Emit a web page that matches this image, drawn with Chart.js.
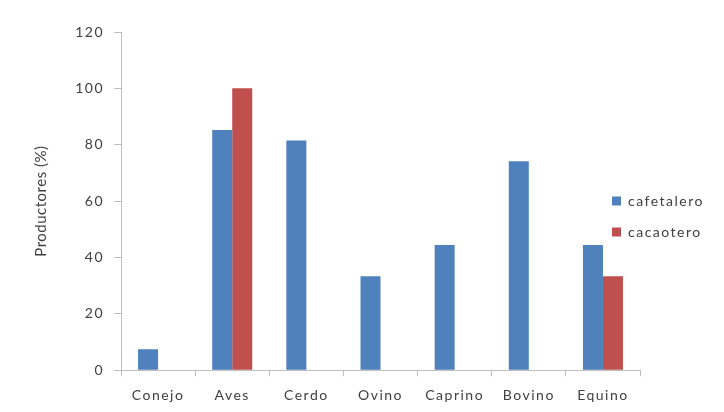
<!DOCTYPE html>
<html>
<head>
<meta charset="utf-8">
<script src="https://cdn.jsdelivr.net/npm/chart.js@4/dist/chart.umd.min.js"></script>
<style>
  html, body { margin: 0; padding: 0; background: #ffffff; }
  #wrap { width: 724px; height: 412px; }
</style>
</head>
<body>
<div id="wrap"><canvas id="c" width="724" height="412"></canvas></div>
<script>
// Livestock species kept by producers, by production system
const categories = ['Conejo', 'Aves', 'Cerdo', 'Ovino', 'Caprino', 'Bovino', 'Equino'];
const cafetalero = [7.4, 85.2, 81.5, 33.3, 44.4, 74.1, 44.4];
const cacaotero = [0, 100, 0, 0, 0, 0, 33.3];
const yTicks = [0, 20, 40, 60, 80, 100, 120];

const axisGrey = '#bfbfbf';
const textGrey = '#404040';
const font = { family: 'Lato, "Open Sans", sans-serif', size: 14 };

// Slightly loose tracking for all chart text; the axis title is set tighter
const tracking = {
  id: 'tracking',
  beforeUpdate(chart) { chart.ctx.letterSpacing = '1.5px'; },
  beforeDraw(chart) { chart.ctx.letterSpacing = '1.5px'; },
  afterLayout(chart) {
    const s = chart.scales.y;
    if (s && !s._tightTitle) {
      const orig = s.drawTitle.bind(s);
      s.drawTitle = function () {
        const c = this.ctx;
        const prev = c.letterSpacing;
        c.letterSpacing = '0.5px';
        orig();
        c.letterSpacing = prev;
      };
      s._tightTitle = true;
    }
  }
};

// Let the legend sit partly over the plot's right margin, like an Excel legend
const legendShift = {
  id: 'legendShift',
  afterLayout(chart) {
    const lg = chart.legend;
    if (!lg) return;
    const dx = -45, dy = -7;
    lg.left += dx;
    lg.right += dx;
    lg.top += dy;
    lg.bottom += dy;
  }
};

new Chart(document.getElementById('c'), {
  type: 'bar',
  data: {
    labels: categories,
    datasets: [
      { label: 'cafetalero', data: cafetalero, backgroundColor: '#4f81bd', borderWidth: 0 },
      { label: 'cacaotero', data: cacaotero, backgroundColor: '#c0504d', borderWidth: 0 }
    ]
  },
  options: {
    responsive: false,
    animation: false,
    devicePixelRatio: 1,
    layout: { padding: { left: 32, right: -35, top: 32, bottom: -3 } },
    datasets: { bar: { categoryPercentage: 0.54, barPercentage: 1.0 } },
    plugins: {
      tooltip: { enabled: false },
      legend: {
        position: 'right',
        labels: {
          boxWidth: 9, boxHeight: 9, padding: 17,
          color: textGrey, font: { ...font }
        }
      }
    },
    scales: {
      x: {
        offset: true,
        grid: {
          offset: true, drawOnChartArea: false, drawTicks: true,
          tickLength: 6, color: axisGrey
        },
        border: { color: axisGrey },
        ticks: { color: textGrey, font: { ...font }, padding: 11 }
      },
      y: {
        min: 0, max: 120,
        afterBuildTicks: (s) => { s.ticks = yTicks.map(v => ({ value: v })); },
        afterFit: (s) => { s.width = 89; },
        grid: { drawOnChartArea: false, drawTicks: true, tickLength: 7, color: axisGrey },
        border: { color: axisGrey },
        ticks: { color: textGrey, font: { ...font }, padding: 10 },
        title: {
          display: true, text: 'Productores (%)', color: textGrey,
          font: { ...font, size: 15 }, padding: 0
        }
      }
    }
  },
  plugins: [tracking, legendShift]
});
</script>
</body>
</html>
